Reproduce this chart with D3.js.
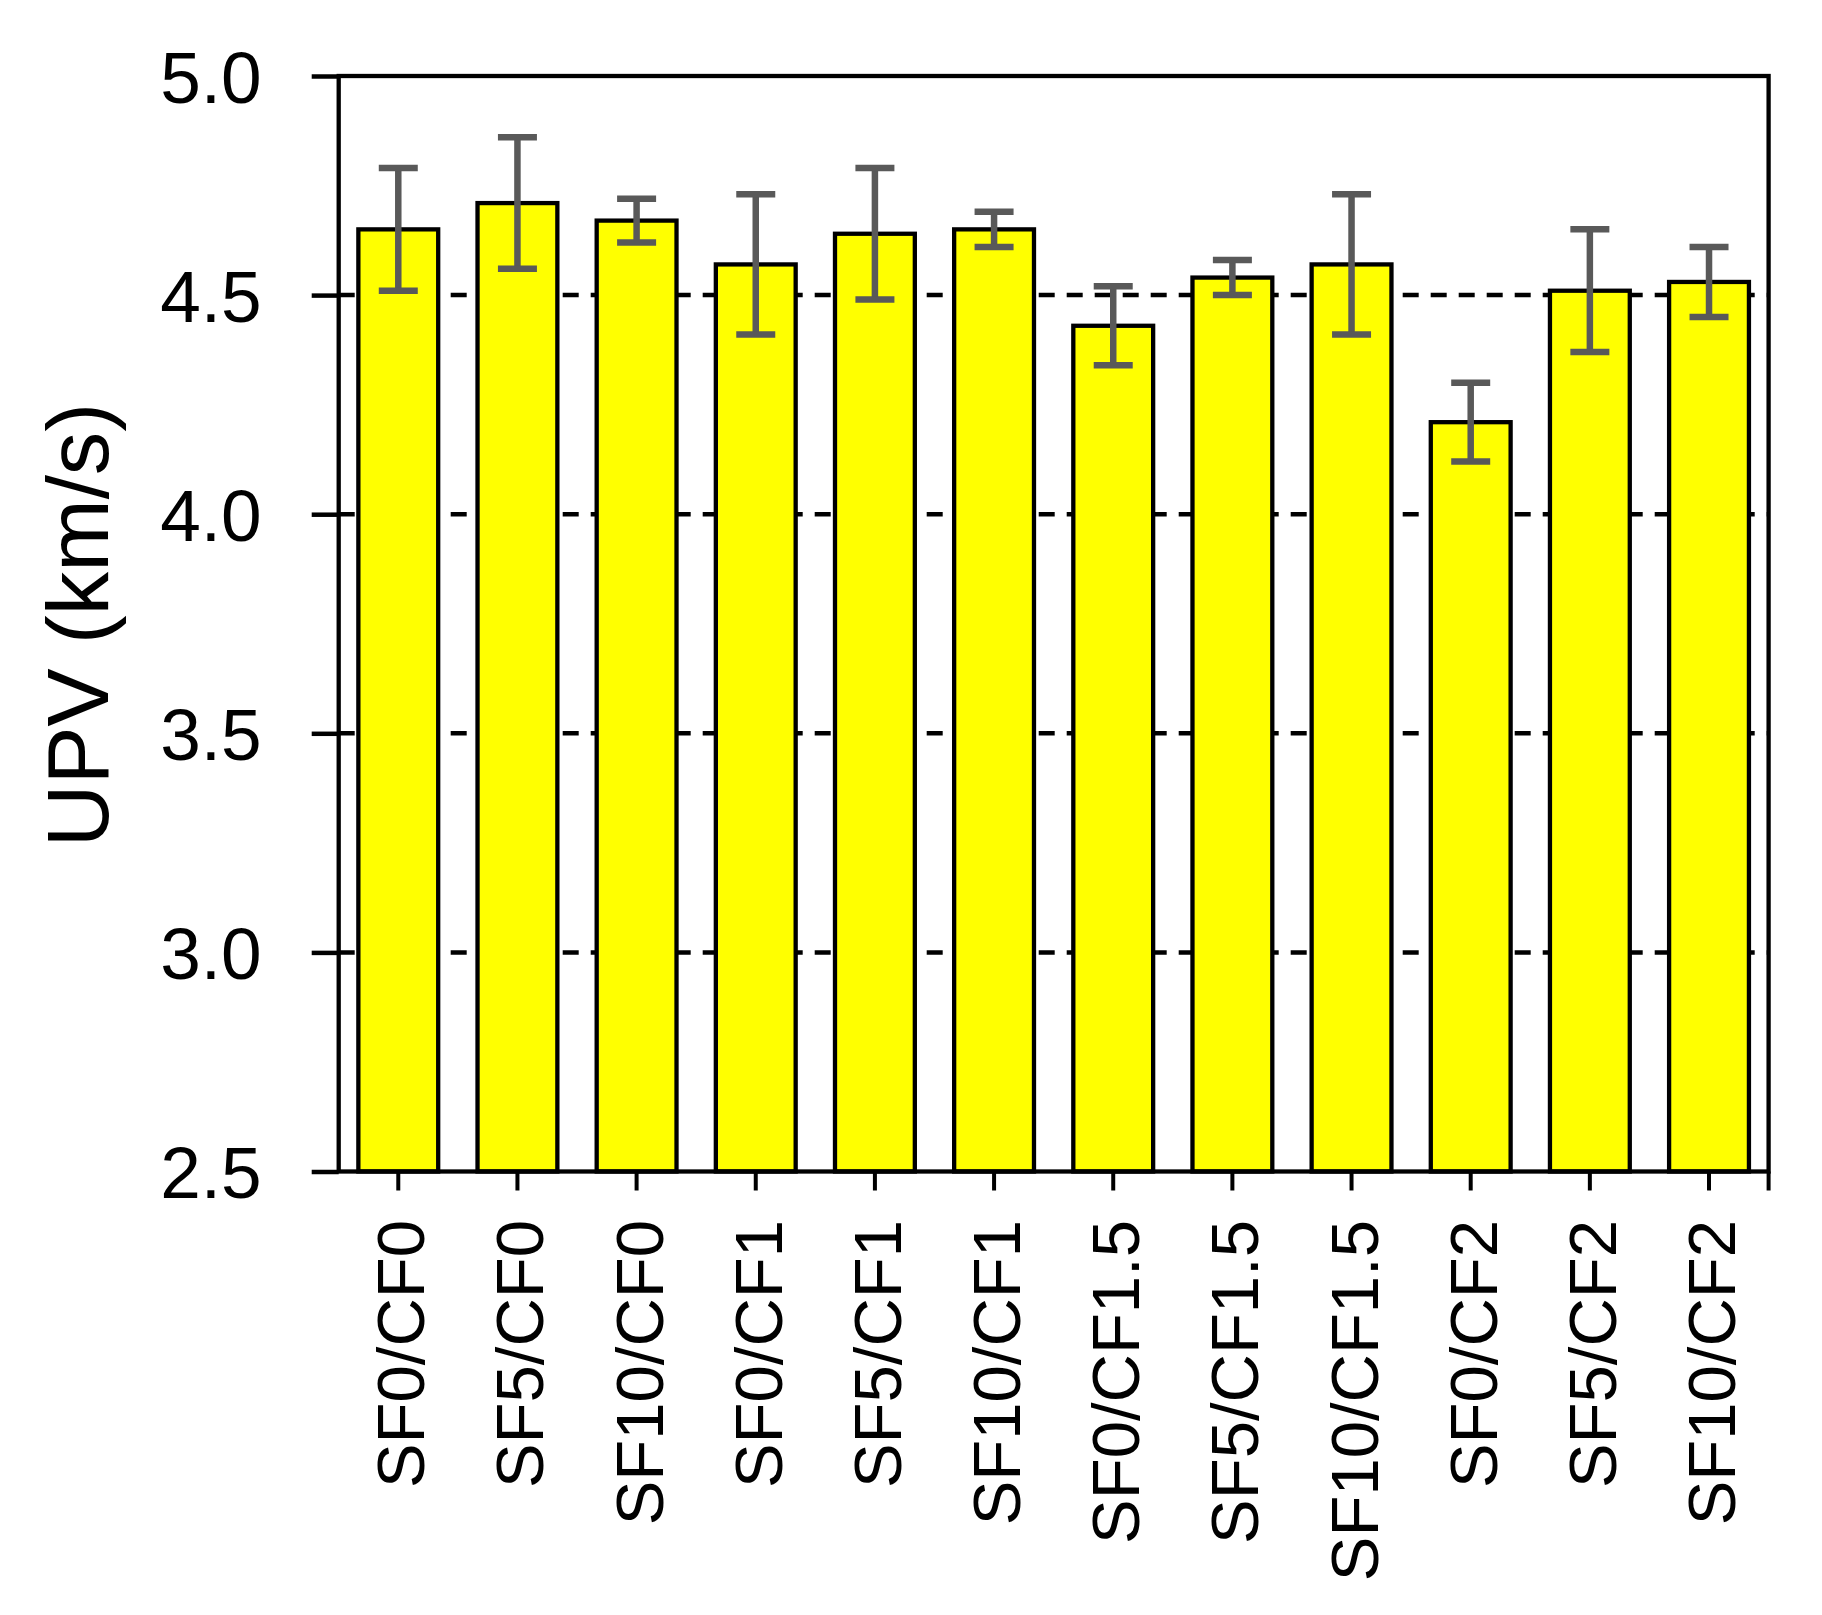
<!DOCTYPE html>
<html>
<head>
<meta charset="utf-8">
<script src="https://cdn.jsdelivr.net/npm/d3@7"></script>
<style>
  html, body { margin: 0; padding: 0; background: #fff; }
  svg { display: block; }
  text { font-family: "Liberation Sans", Arial, sans-serif; fill: #000; }
</style>
</head>
<body>
<svg id="chart" width="1822" height="1615"></svg>
<script>
// ---- data ----
const categories = ["SF0/CF0","SF5/CF0","SF10/CF0","SF0/CF1","SF5/CF1","SF10/CF1",
                    "SF0/CF1.5","SF5/CF1.5","SF10/CF1.5","SF0/CF2","SF5/CF2","SF10/CF2"];
const upvMean  = [4.65, 4.71, 4.67, 4.57, 4.64, 4.65, 4.43, 4.54, 4.57, 4.21, 4.51, 4.53];
const upvError = [0.14, 0.15, 0.05, 0.16, 0.15, 0.04, 0.09, 0.04, 0.16, 0.09, 0.14, 0.08];
const yTicks   = [2.5, 3.0, 3.5, 4.0, 4.5, 5.0];
const gridTicks = [3.0, 3.5, 4.0, 4.5];
const yLabel = "UPV (km/s)";

// ---- layout ----
const pL = 338.7, pR = 1768.6, pT = 76, pB = 1171.5;
const svg = d3.select("#chart");

const x = d3.scaleBand().domain(categories).range([pL, pR])
  .paddingInner(0.33).paddingOuter(0.165);
const y = d3.scaleLinear().domain([2.5, 5.0]).range([pB, pT]);

// gridlines
svg.append("g").selectAll("line").data(gridTicks).join("line")
  .attr("x1", pL).attr("x2", pR)
  .attr("y1", d => y(d)).attr("y2", d => y(d))
  .attr("stroke", "#000").attr("stroke-width", 4.5)
  .attr("stroke-dasharray", "16,12");

// bars
const data = categories.map((c, i) => ({c, v: upvMean[i], e: upvError[i]}));
svg.append("g").selectAll("rect").data(data).join("rect")
  .attr("x", d => x(d.c)).attr("width", x.bandwidth())
  .attr("y", d => y(d.v)).attr("height", d => y(2.5) - y(d.v))
  .attr("fill", "#ffff00").attr("stroke", "#000").attr("stroke-width", 4.3);

// error bars
const eb = svg.append("g").attr("stroke", "#595959").attr("stroke-width", 6.5);
const cx = d => x(d.c) + x.bandwidth() / 2;
const capW = 39;
eb.selectAll("line.stem").data(data).join("line").attr("class", "stem")
  .attr("x1", cx).attr("x2", cx)
  .attr("y1", d => y(d.v + d.e)).attr("y2", d => y(d.v - d.e));
eb.selectAll("line.capT").data(data).join("line").attr("class", "capT")
  .attr("x1", d => cx(d) - capW / 2).attr("x2", d => cx(d) + capW / 2)
  .attr("y1", d => y(d.v + d.e)).attr("y2", d => y(d.v + d.e));
eb.selectAll("line.capB").data(data).join("line").attr("class", "capB")
  .attr("x1", d => cx(d) - capW / 2).attr("x2", d => cx(d) + capW / 2)
  .attr("y1", d => y(d.v - d.e)).attr("y2", d => y(d.v - d.e));

// frame
svg.append("rect")
  .attr("x", pL).attr("y", pT).attr("width", pR - pL).attr("height", pB - pT)
  .attr("fill", "none").attr("stroke", "#000").attr("stroke-width", 4.3);

// y axis
const yAxis = svg.append("g").attr("transform", `translate(${pL},0)`)
  .call(d3.axisLeft(y).tickValues(yTicks).tickFormat(d3.format(".1f"))
        .tickSize(27).tickPadding(50));
yAxis.select(".domain").remove();
yAxis.selectAll(".tick line").attr("stroke", "#000").attr("stroke-width", 4.5);
yAxis.selectAll(".tick text").attr("font-size", 73)
  .attr("font-family", "'Liberation Sans', Arial, sans-serif").attr("dy", "0.36em");

// x axis
const xAxis = svg.append("g").attr("transform", `translate(0,${pB})`)
  .call(d3.axisBottom(x).tickSize(19).tickSizeOuter(0));
xAxis.select(".domain").remove();
xAxis.selectAll(".tick line").attr("stroke", "#000").attr("stroke-width", 4);
xAxis.selectAll(".tick text")
  .attr("font-size", 67)
  .attr("font-family", "'Liberation Sans', Arial, sans-serif")
  .attr("transform", "rotate(-90)")
  .attr("text-anchor", "end")
  .attr("x", -48.5).attr("y", 26).attr("dy", 0);
// end tick at the right edge of the category axis
xAxis.append("line")
  .attr("x1", pR).attr("x2", pR).attr("y1", 0).attr("y2", 19)
  .attr("stroke", "#000").attr("stroke-width", 4);

// y title
svg.append("text")
  .attr("transform", "translate(108,625) rotate(-90)")
  .attr("text-anchor", "middle")
  .attr("font-size", 87)
  .text(yLabel);
</script>
</body>
</html>
